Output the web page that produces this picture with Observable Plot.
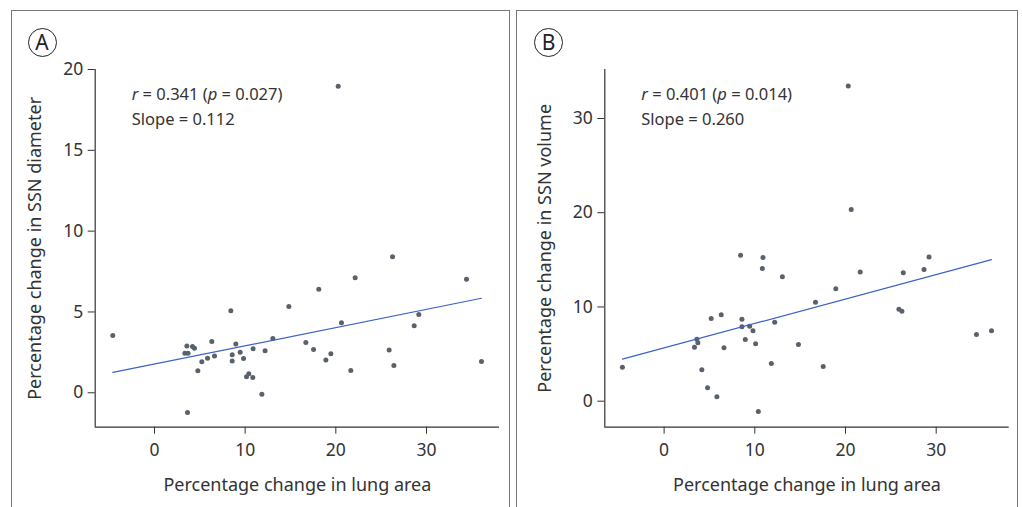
<!DOCTYPE html>
<html>
<head>
<meta charset="utf-8">
<script src="https://cdn.jsdelivr.net/npm/d3@7"></script>
<script src="https://cdn.jsdelivr.net/npm/@observablehq/plot@0.6"></script>
<style>
  body { margin: 0; background: #fff; font-family: "Noto Sans", "Open Sans", sans-serif; color: #333; }
  #root { position: relative; width: 1022px; height: 507px; overflow: hidden; }
  .panel { position: absolute; top: 10px; height: 520px; border: 1px solid #777; box-sizing: border-box; }
  .plotbox { position: absolute; top: 0; }
  .badge { position: absolute; width: 29px; height: 29px; border: 1.3px solid #222; border-radius: 50%;
           box-sizing: border-box; font-size: 21px; line-height: 26px; text-align: center; color: #222; }
  .note { position: absolute; font-size: 16.5px; line-height: 25px; color: #333; white-space: nowrap; }
</style>
</head>
<body>
<div id="root"></div>
<script>
// ---- data ----
const lungAreaA = [-4.6, 3.57, 3.35, 3.7, 4.19, 4.41, 3.64, 6.32, 5.22, 4.78, 5.85, 6.62, 8.42, 8.57, 8.57, 8.97, 9.45, 9.82, 10.15, 10.4, 10.84, 10.88, 11.84, 12.2, 13.05, 14.82, 16.69, 17.54, 18.12, 18.9, 19.45, 20.62, 21.65, 22.13, 25.88, 26.25, 26.4, 28.64, 29.15, 34.41, 36.06, 20.26];
const ssnDiameter = [3.55, 2.9, 2.45, 2.45, 2.87, 2.76, -1.22, 3.17, 1.92, 1.36, 2.14, 2.27, 5.07, 2.35, 1.96, 3.01, 2.51, 2.12, 0.99, 1.17, 0.95, 2.72, -0.09, 2.6, 3.36, 5.34, 3.11, 2.68, 6.41, 2.02, 2.41, 4.33, 1.38, 7.11, 2.64, 8.41, 1.69, 4.15, 4.84, 7.03, 1.94, 18.97];

const lungAreaB = [-4.6, 3.61, 3.72, 3.35, 4.16, 4.79, 5.19, 5.82, 6.3, 6.6, 8.43, 8.58, 8.58, 8.95, 9.43, 9.8, 10.09, 10.39, 10.83, 10.9, 11.82, 12.19, 13.04, 14.81, 16.69, 17.54, 18.93, 21.62, 25.89, 26.22, 26.37, 28.66, 29.21, 34.44, 36.1, 20.3, 20.63];
const ssnVolume = [3.61, 6.58, 6.2, 5.73, 3.33, 1.42, 8.78, 0.47, 9.17, 5.67, 15.5, 8.7, 7.9, 6.55, 7.96, 7.47, 6.09, -1.09, 14.09, 15.25, 4.0, 8.39, 13.2, 6.02, 10.51, 3.68, 11.93, 13.7, 9.77, 9.55, 13.63, 13.98, 15.29, 7.08, 7.47, 33.44, 20.35];

const xTicks = [0, 10, 20, 30];
const yTicksA = [0, 5, 10, 15, 20];
const yTicksB = [0, 10, 20, 30];
const xDomain = [-6.54, 38.05];
const yDomainA = [-2.13, 20];
const yDomainB = [-2.76, 35.2];

const xLabel = "Percentage change in lung area";
const yLabelA = "Percentage change in SSN diameter";
const yLabelB = "Percentage change in SSN volume";
const statsA = ["0.341", "0.027", "0.112"];
const statsB = ["0.401", "0.014", "0.260"];

// ---- drawing ----
const pointColor = "#59616a";
const lineColor = "#3a63c6";
const root = document.getElementById("root");

function panel(xs, ys, yDomain, yTicks, yLabel, mLeft, mRight) {
  const data = xs.map((x, i) => ({x, y: ys[i]}));
  const svg = Plot.plot({
    width: 510, height: 507,
    marginLeft: mLeft, marginRight: mRight, marginTop: 69, marginBottom: 80.3,
    style: {fontFamily: "'Noto Sans', 'Open Sans', sans-serif", fontSize: "17.5px", color: "#333", background: "transparent"},
    x: {domain: xDomain, ticks: xTicks, tickSize: 7, tickPadding: 9, label: xLabel, labelAnchor: "center", labelOffset: 64, labelArrow: false},
    y: {domain: yDomain, ticks: yTicks, tickSize: 7, tickPadding: 5, label: yLabel, labelAnchor: "center", labelOffset: 67, labelArrow: false},
    marks: [
      Plot.ruleX([xDomain[0]], {stroke: "#333", strokeWidth: 1.2}),
      Plot.ruleY([yDomain[0]], {stroke: "#333", strokeWidth: 1.2}),
      Plot.dot(data, {x: "x", y: "y", r: 2.5, fill: pointColor, stroke: "none"}),
      Plot.linearRegressionY(data, {x: "x", y: "y", stroke: lineColor, strokeWidth: 1.2, ci: 0})
    ]
  });
  // axis titles: slightly larger than tick labels, and no arrows
  svg.querySelectorAll("text").forEach(t => {
    const s = t.textContent;
    if (s.includes("Percentage")) {
      t.textContent = s.replace(/\s*[→←↑↓]\s*/g, "").trim();
      t.setAttribute("font-size", "18px");
      t.style.fontSize = "18px";
    }
  });
  return svg;
}

function addPanel(left, boxLeft, boxWidth, letter, xs, ys, yDomain, yTicks, yLabel, stats, mLeft, mRight) {
  const box = document.createElement("div");
  box.className = "panel";
  box.style.left = boxLeft + "px";
  box.style.width = boxWidth + "px";
  root.appendChild(box);

  const wrap = document.createElement("div");
  wrap.className = "plotbox";
  wrap.style.left = left + "px";
  wrap.appendChild(panel(xs, ys, yDomain, yTicks, yLabel, mLeft, mRight));
  root.appendChild(wrap);

  const badge = document.createElement("div");
  badge.className = "badge";
  badge.textContent = letter;
  badge.style.left = (left + (letter === "A" ? 27.5 : 22)) + "px";
  badge.style.top = "27.5px";
  root.appendChild(badge);

  const note = document.createElement("div");
  note.className = "note";
  note.style.left = (left + mLeft + 37) + "px";
  note.style.top = "81px";
  note.innerHTML = `<i>r</i> = ${stats[0]} (<i>p</i> = ${stats[1]})<br>Slope = ${stats[2]}`;
  root.appendChild(note);
}

addPanel(0, 11, 499, "A", lungAreaA, ssnDiameter, yDomainA, yTicksA, yLabelA, statsA, 94.7, 11);
addPanel(512, 516, 502, "B", lungAreaB, ssnVolume, yDomainB, yTicksB, yLabelB, statsB, 92.3, 13.3);
</script>
</body>
</html>
